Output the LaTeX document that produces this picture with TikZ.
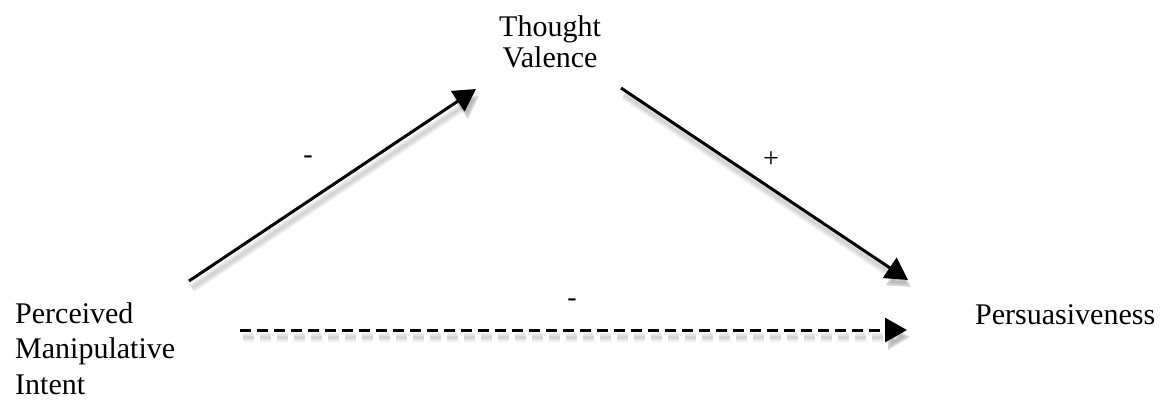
\documentclass[tikz,border=0pt]{standalone}
\usepackage{fontspec}
\setmainfont{Liberation Serif}
\usetikzlibrary{arrows.meta}
\begin{document}
\begin{tikzpicture}[x=1pt,y=-1pt,
  lbl/.style={font=\fontsize{30}{35.5}\selectfont, inner sep=0pt},
  tlbl/.style={font=\fontsize{30}{31}\selectfont, inner sep=0pt},
  sgn/.style={font=\fontsize{28}{30}\selectfont, inner sep=0pt},
  conn/.style={line width=3pt, -{Triangle[length=22pt,width=24pt]}},
  shade/.style={line width=#1, draw=black, opacity=0.06, -{Triangle[length=22pt,width=24pt]}},
  shade/.default=7pt,
]
\useasboundingbox (0,0) rectangle (1171,402);
% text nodes
\node[tlbl, anchor=north, align=center] (tv) at (550,15) {Thought\\Valence};
\node[lbl, anchor=north west, align=left] (pmi) at (15,302) {Perceived\\Manipulative\\Intent};
\node[lbl, anchor=base west] (pers) at (975,324) {Persuasiveness};
% connector end points
\coordinate (a1s) at (189,281);
\coordinate (a1e) at (476,89);
\coordinate (a2s) at (621,88);
\coordinate (a2e) at (908,280);
\coordinate (a3s) at (240,330);
\coordinate (a3e) at (907,330);
% soft shadows
\foreach \w in {9pt,6pt,3pt}{
  \draw[shade=\w] ([shift={(3,7)}]a1s) -- ([shift={(3,7)}]a1e);
  \draw[shade=\w] ([shift={(3,7)}]a2s) -- ([shift={(3,7)}]a2e);
  \draw[shade=\w, dash pattern=on 11pt off 6pt] ([shift={(3,7)}]a3s) -- ([shift={(3,7)}]a3e);
}
% connectors
\draw[conn] (a1s) -- (a1e);
\draw[conn] (a2s) -- (a2e);
\draw[conn, dash pattern=on 11pt off 6pt] (a3s) -- (a3e);
% signs
\node[sgn] (s1) at (308,160) {-};
\node[sgn] (s2) at (771,160) {+};
\node[sgn] (s3) at (572,303) {-};
\end{tikzpicture}
\end{document}
